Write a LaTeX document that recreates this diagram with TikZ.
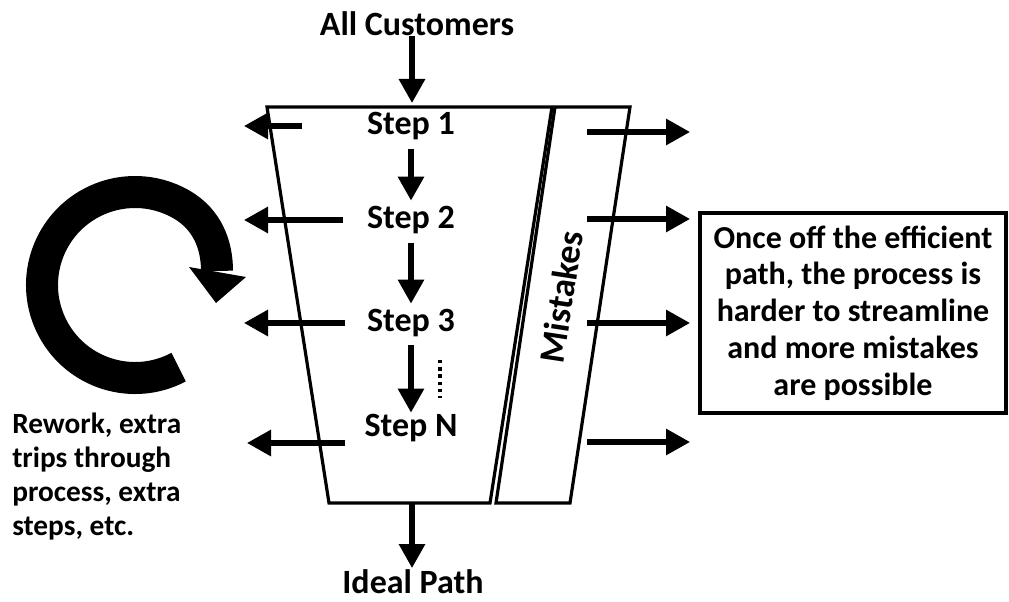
\documentclass[tikz,border=0pt]{standalone}
\usepackage{fontspec}
\setmainfont{Carlito}
\usetikzlibrary{arrows.meta}
\begin{document}
\begin{tikzpicture}[x=0.75pt,y=-0.75pt,
  lbl/.style={font=\bfseries\fontsize{25.5}{30}\selectfont, inner sep=0pt},
  flow/.style={line width=3.9pt, -{Triangle[width=19pt,length=18pt]}},
  edge/.style={line width=2.4pt, line join=miter},
  loopline/.style={line width=24pt}]
\useasboundingbox (0,0) rectangle (1009,602);

% funnel body and the mistakes strip beside it
\draw[edge] (552,107) -- (267,107) -- (329,503) -- (490,503) -- cycle;
\draw[edge] (555,107) -- (630,107) -- (570,503) -- (496,503) -- cycle;

% labels
\node[lbl] (allc) at (417,24) {All Customers};
\node[lbl] (s1) at (411,126) {Step 1};
\node[lbl] (s2) at (411,220) {Step 2};
\node[lbl] (s3) at (411,323) {Step 3};
\node[lbl] (sN) at (411,428) {Step N};
\node[lbl] (ideal) at (413,582) {Ideal Path};
\node[lbl, font=\bfseries\fontsize{27}{30}\selectfont, rotate=81.4] (mist) at (561,297) {Mistakes};

\node[lbl, anchor=north west, align=left, font=\bfseries\fontsize{22}{25.5}\selectfont]
  (rework) at (12,413) {Rework, extra\\trips through\\process, extra\\steps, etc.};

\node[draw, line width=2.4pt, minimum width=229.5pt, minimum height=150pt,
  align=center, font=\bfseries\fontsize{24}{27.6}\selectfont, inner sep=0pt]
  (note) at (853,313) {Once off the efficient\\path, the process is\\harder to streamline\\and more mistakes\\are possible};

% entry and exit of the ideal path
\coordinate (top) at (412,103);
\coordinate (bot) at (412,503);
\coordinate (botT) at (412,568);
\draw[flow] (allc.south -| top) -- (top);
\draw[flow] (bot) -- (botT);

% step to step
\draw[flow, shorten <=7pt, shorten >=4pt] (s1.south) -- (s2.north);
\draw[flow, shorten <=7pt, shorten >=4pt] (s2.south) -- (s3.north);
\draw[flow, shorten <=6pt, shorten >=1pt] (s3.south) -- (sN.north);
\draw[line width=3.2pt, dash pattern=on 2.6pt off 2.8pt] (440,360) -- (440,398);

% customers leaving to the left
\coordinate (l1a) at (302,126); \coordinate (l1b) at (244,126);
\coordinate (l2a) at (343,220); \coordinate (l2b) at (244,220);
\coordinate (l3a) at (345,323); \coordinate (l3b) at (244,323);
\coordinate (l4a) at (345,443); \coordinate (l4b) at (247,443);
\draw[flow] (l1a) -- (l1b);
\draw[flow] (l2a) -- (l2b);
\draw[flow] (l3a) -- (l3b);
\draw[flow] (l4a) -- (l4b);

% customers leaving to the right
\coordinate (r1a) at (587,132); \coordinate (r1b) at (690,132);
\coordinate (r2a) at (587,219); \coordinate (r2b) at (690,219);
\coordinate (r3a) at (587,323); \coordinate (r3b) at (690,323);
\coordinate (r4a) at (587,442); \coordinate (r4b) at (690,442);
\draw[flow] (r1a) -- (r1b);
\draw[flow] (r2a) -- (r2b);
\draw[flow] (r3a) -- (r3b);
\draw[flow] (r4a) -- (r4b);

% rework loop: a thick ring that closes in on its own head
\coordinate (loopstart) at ({135+93*cos(62)},{285+93*sin(62)});
\coordinate (loopend) at (217,271);
\draw[loopline] (loopstart) arc[start angle=62, end angle=300, radius=93]
  .. controls (207.5,219.5) and (217,245) .. (loopend);
\fill (189,267) -- (246,277) -- (216,303) -- cycle;
\end{tikzpicture}
\end{document}
